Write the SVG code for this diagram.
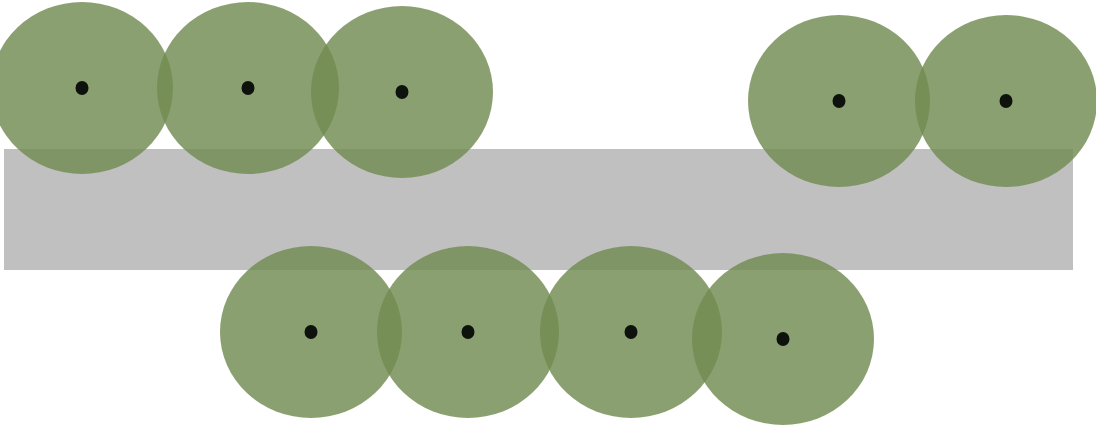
<svg xmlns="http://www.w3.org/2000/svg" width="1096" height="426" viewBox="0 0 1096 426">
<style>
.tree{fill:#718b50;fill-opacity:0.82}
.dot{fill:#0d120c}
</style>
<rect x="0" y="0" width="1096" height="426" fill="#ffffff"/>
<rect id="band" x="4" y="149" width="1069" height="121" fill="#c0c0c0"/>
<g id="t1"><ellipse class="tree" cx="82" cy="88" rx="91" ry="86"/><ellipse class="dot" cx="82" cy="88" rx="6.5" ry="7"/></g>
<g id="t2"><ellipse class="tree" cx="248" cy="88" rx="91" ry="86"/><ellipse class="dot" cx="248" cy="88" rx="6.5" ry="7"/></g>
<g id="t3"><ellipse class="tree" cx="402" cy="92" rx="91" ry="86"/><ellipse class="dot" cx="402" cy="92" rx="6.5" ry="7"/></g>
<g id="t4"><ellipse class="tree" cx="839" cy="101" rx="91" ry="86"/><ellipse class="dot" cx="839" cy="101" rx="6.5" ry="7"/></g>
<g id="t5"><ellipse class="tree" cx="1006" cy="101" rx="91" ry="86"/><ellipse class="dot" cx="1006" cy="101" rx="6.5" ry="7"/></g>
<g id="t6"><ellipse class="tree" cx="311" cy="332" rx="91" ry="86"/><ellipse class="dot" cx="311" cy="332" rx="6.5" ry="7"/></g>
<g id="t7"><ellipse class="tree" cx="468" cy="332" rx="91" ry="86"/><ellipse class="dot" cx="468" cy="332" rx="6.5" ry="7"/></g>
<g id="t8"><ellipse class="tree" cx="631" cy="332" rx="91" ry="86"/><ellipse class="dot" cx="631" cy="332" rx="6.5" ry="7"/></g>
<g id="t9"><ellipse class="tree" cx="783" cy="339" rx="91" ry="86"/><ellipse class="dot" cx="783" cy="339" rx="6.5" ry="7"/></g>
<g id="connectors"/>
</svg>
